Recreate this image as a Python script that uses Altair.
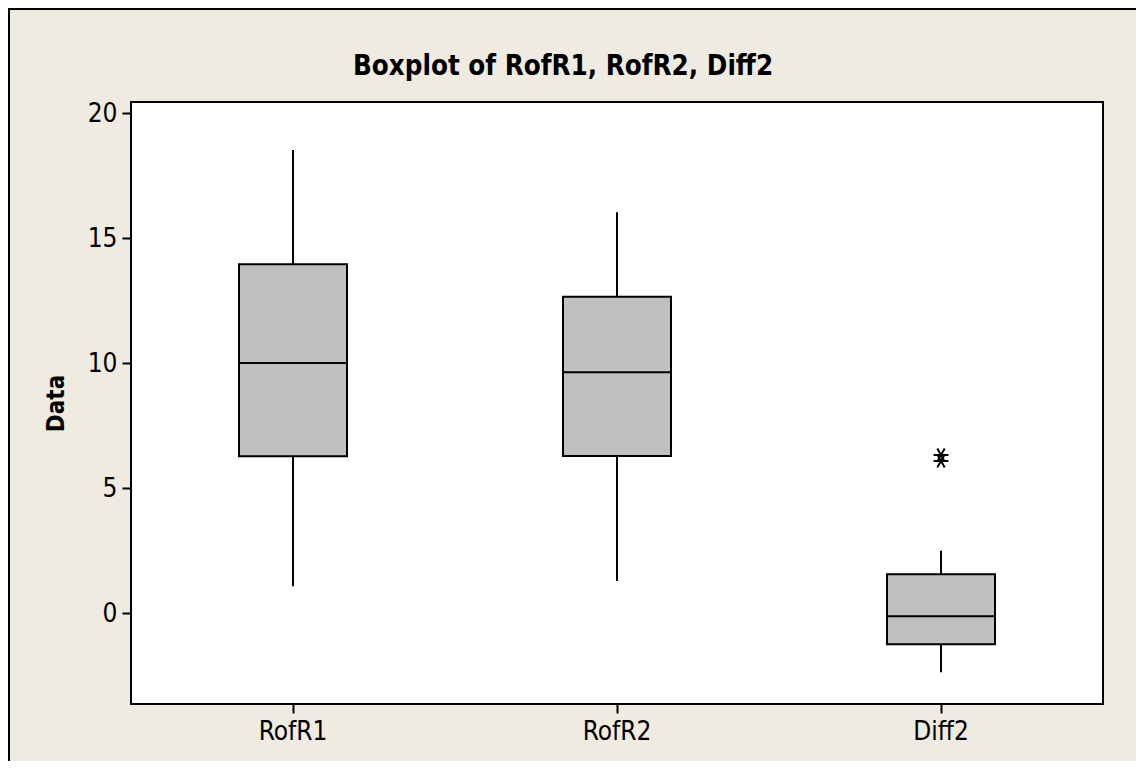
import altair as alt
import pandas as pd

categories = ["RofR1", "RofR2", "Diff2"]
whisker_low = [1.07, 1.28, -2.37]
q1 = [6.27, 6.28, -1.25]
median = [10.0, 9.63, -0.13]
q3 = [13.95, 12.65, 1.55]
whisker_high = [18.52, 16.03, 2.49]

outlier_cat = ["Diff2", "Diff2"]
outlier_val = [6.32, 6.08]

y_ticks = [0, 5, 10, 15, 20]
title_text = ["Boxplot of RofR1, RofR2, Diff2"]

FONT = "DejaVu Sans Condensed"
BG = "#EFEBE1"

box = pd.DataFrame({
    "cat": categories, "lo": whisker_low, "q1": q1,
    "med": median, "q3": q3, "hi": whisker_high,
})
out = pd.DataFrame({"cat": outlier_cat, "val": outlier_val})
ttl = pd.DataFrame({"t": title_text})

xenc = alt.X("cat:N", sort=categories,
             scale=alt.Scale(paddingInner=0, paddingOuter=0),
             axis=alt.Axis(title=None, labelAngle=0, labelPadding=5))
yscale = alt.Scale(domain=[-3.64, 20.44], nice=False, zero=False)
yaxis = alt.Axis(values=y_ticks, title="Data", titleFont=FONT, titleFontSize=24,
                 titleFontWeight="bold", titleColor="black",
                 titleBaseline="alphabetic", titleX=-68, titleY=301, titleAngle=270,
                 labelPadding=5)

base = alt.Chart(box)

whisk = base.mark_rule(color="black", strokeWidth=2).encode(
    x=xenc, y=alt.Y("lo:Q", scale=yscale, axis=yaxis), y2="hi:Q")
bars = base.mark_bar(size=108, fill="#C0C0C0", stroke="black", strokeWidth=2).encode(
    x=alt.X("cat:N", sort=categories), y=alt.Y("q1:Q"), y2="q3:Q")
med = base.mark_tick(size=108, thickness=2, color="black", opacity=1).encode(
    x=alt.X("cat:N", sort=categories), y=alt.Y("med:Q"))

star = "M-1,0L1,0M-0.5,-0.87L0.5,0.87M0.5,-0.87L-0.5,0.87"
pts = alt.Chart(out).mark_point(shape=star, size=220, filled=False, stroke="black",
                                strokeWidth=2, opacity=1).encode(
    x=alt.X("cat:N", sort=categories), y=alt.Y("val:Q"))

title = alt.Chart(ttl).mark_text(font=FONT, fontSize=27.5, fontWeight="bold",
                                 color="black", align="center",
                                 baseline="alphabetic").encode(
    text="t:N", x=alt.value(432), y=alt.value(-27))

border_left = alt.Chart(ttl).mark_rule(color="black", strokeWidth=2).encode(
    x=alt.value(-122), y=alt.value(-94), y2=alt.value(700))
border_top = alt.Chart(ttl).mark_rule(color="black", strokeWidth=2).encode(
    y=alt.value(-93), x=alt.value(-124), x2=alt.value(1010))

chart = alt.layer(whisk, bars, med, pts, title, border_left, border_top).properties(
    width=972, height=602,
    autosize=alt.AutoSizeParams(type="none"),
    padding={"left": 123, "top": 94, "right": 33, "bottom": 57},
    background=BG,
).configure_view(
    stroke="black", strokeWidth=2, fill="white"
).configure_axis(
    labelFont=FONT, labelFontSize=26, labelColor="black",
    tickColor="black", tickWidth=2, tickSize=9, domain=False, grid=False,
)

chart.save("out.html", embed_options={"renderer": "svg", "actions": False})
